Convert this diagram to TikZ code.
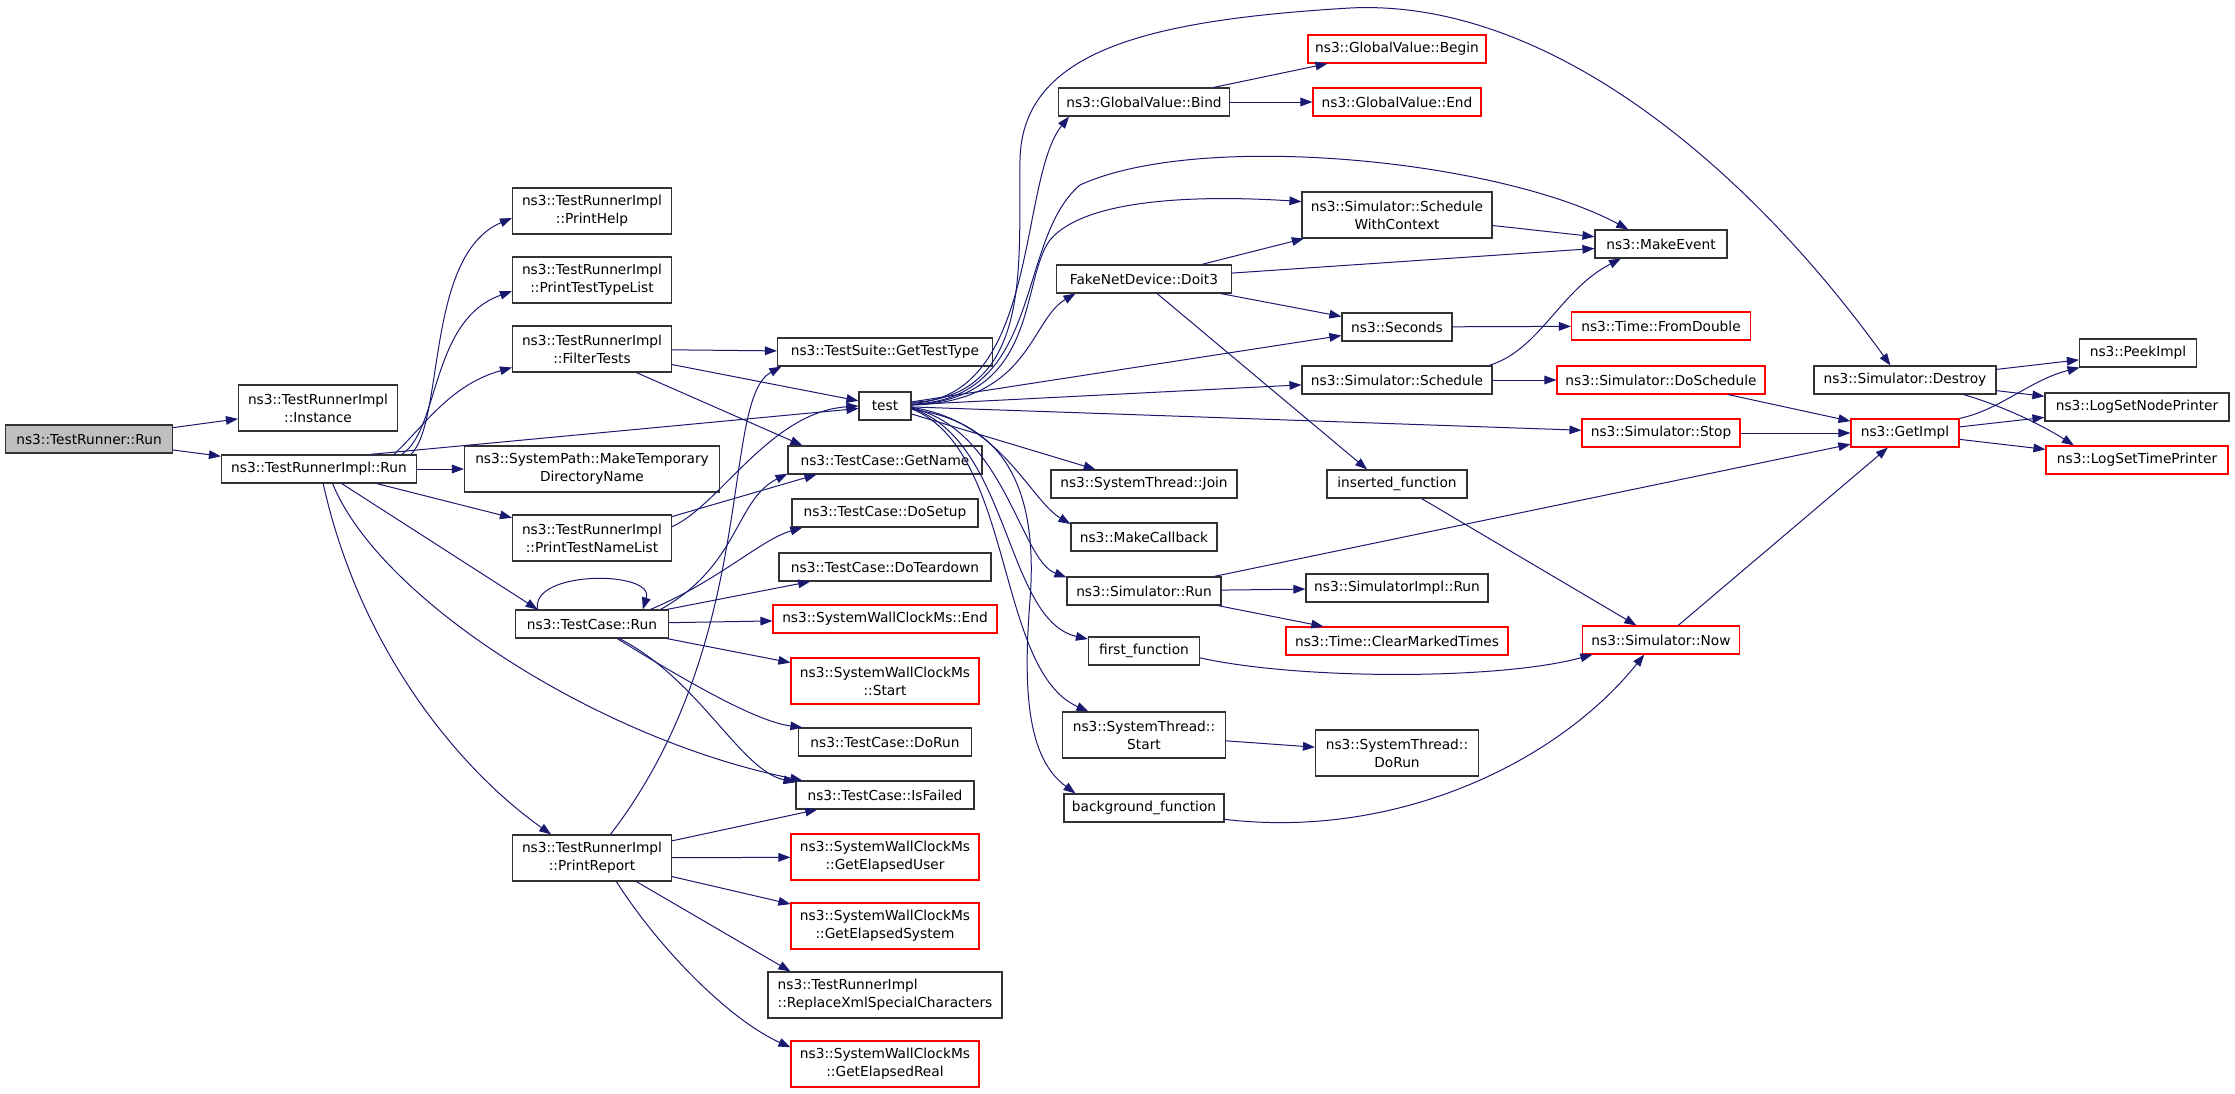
\documentclass[tikz,border=0pt]{standalone}
\usepackage{fontspec}
\setmainfont{DejaVu Sans}
\usepackage{tikz}
\usetikzlibrary{arrows.meta}
\definecolor{callblue}{HTML}{191970}
\definecolor{rootgray}{HTML}{BFBFBF}
\newcommand{\boxh}{21pt}
\newcommand{\boxhh}{34.5pt}
\tikzset{
  fn/.style={draw=black!80, fill=white, line width=0.85pt, rectangle, inner xsep=2pt, inner ysep=0pt,
    minimum height=\boxh, align=center, font=\fontsize{10.3}{13.6}\selectfont},
  fnred/.style={fn, draw=red},
  two/.style={minimum height=\boxhh},
  bw/.style={minimum width=#1*0.75pt},
  call/.style={draw=callblue, line width=0.75pt, -{Triangle[length=9pt,width=6.5pt]}},
}

\begin{document}
\begin{tikzpicture}[x=0.75pt,y=-0.75pt]
\useasboundingbox (0,0) rectangle (2235,1093);

% column 1 and 2
\node[fn, fill=rootgray, bw=167] (trRun) at (89,439) {ns3::TestRunner::Run};
\node[fn, two, bw=159] (inst) at (318,408) {ns3::TestRunnerImpl\\::Instance};
\node[fn, bw=195] (implRun) at (319,469) {ns3::TestRunnerImpl::Run};

% column 3
\node[fn, two, bw=159] (pHelp) at (592,211) {ns3::TestRunnerImpl\\::PrintHelp};
\node[fn, two, bw=159] (pTypes) at (592,280) {ns3::TestRunnerImpl\\::PrintTestTypeList};
\node[fn, two, bw=159] (filter) at (592,349) {ns3::TestRunnerImpl\\::FilterTests};
\node[fn, two, bw=255] (mkTmp) at (592,469) {ns3::SystemPath::MakeTemporary\\DirectoryName};
\node[fn, two, bw=159] (pNames) at (592,538) {ns3::TestRunnerImpl\\::PrintTestNameList};
\node[fn, bw=153] (tcRun) at (592,624) {ns3::TestCase::Run};
\node[fn, two, bw=159] (pReport) at (592,858) {ns3::TestRunnerImpl\\::PrintReport};

% column 4
\node[fn, bw=215] (getType) at (885,352) {ns3::TestSuite::GetTestType};
\node[fn, bw=52] (test) at (885,406) {test};
\node[fn, bw=194] (getName) at (885,460) {ns3::TestCase::GetName};
\node[fn, bw=186] (doSetup) at (885,513) {ns3::TestCase::DoSetup};
\node[fn, bw=212] (doTear) at (885,567) {ns3::TestCase::DoTeardown};
\node[fnred, bw=224] (swcEnd) at (885,619) {ns3::SystemWallClockMs::End};
\node[fnred, two, bw=188] (swcStart) at (885,681) {ns3::SystemWallClockMs\\::Start};
\node[fn, bw=173] (doRun) at (885,742) {ns3::TestCase::DoRun};
\node[fn, bw=178] (isFailed) at (885,795) {ns3::TestCase::IsFailed};
\node[fnred, two, bw=188] (elUser) at (885,857) {ns3::SystemWallClockMs\\::GetElapsedUser};
\node[fnred, two, bw=188] (elSys) at (885,926) {ns3::SystemWallClockMs\\::GetElapsedSystem};
\node[fn, two, bw=234, align=left] (replXml) at (885,995) {ns3::TestRunnerImpl\\::ReplaceXmlSpecialCharacters};
\node[fnred, two, bw=188] (elReal) at (885,1064) {ns3::SystemWallClockMs\\::GetElapsedReal};

% column 5
\node[fn, bw=171] (bind) at (1144,102) {ns3::GlobalValue::Bind};
\node[fn, bw=175] (doit3) at (1144,279) {FakeNetDevice::Doit3};
\node[fn, bw=186] (join) at (1144,484) {ns3::SystemThread::Join};
\node[fn, bw=146] (mkCb) at (1144,537) {ns3::MakeCallback};
\node[fn, bw=154] (simRun) at (1144,591) {ns3::Simulator::Run};
\node[fn, bw=111] (firstFn) at (1144,651) {first\_function};
\node[fn, two, bw=163] (stStart) at (1144,735) {ns3::SystemThread::\\Start};
\node[fn, bw=160] (bgFn) at (1144,808) {background\_function};

% column 6
\node[fnred, bw=178] (gvBegin) at (1397,49) {ns3::GlobalValue::Begin};
\node[fnred, bw=168] (gvEnd) at (1397,102) {ns3::GlobalValue::End};
\node[fn, two, bw=190] (swc) at (1397,215) {ns3::Simulator::Schedule\\WithContext};
\node[fn, bw=110] (seconds) at (1397,327) {ns3::Seconds};
\node[fn, bw=190] (sched) at (1397,380) {ns3::Simulator::Schedule};
\node[fn, bw=140] (inserted) at (1397,484) {inserted\_function};
\node[fn, bw=182] (simImplRun) at (1397,588) {ns3::SimulatorImpl::Run};
\node[fnred, bw=222] (clearMT) at (1397,641) {ns3::Time::ClearMarkedTimes};
\node[fn, two, bw=163] (stDoRun) at (1397,753) {ns3::SystemThread::\\DoRun};

% column 7
\node[fn, bw=132] (makeEvent) at (1661,244) {ns3::MakeEvent};
\node[fnred, bw=179] (fromDbl) at (1661,326) {ns3::Time::FromDouble};
\node[fnred, bw=208] (doSched) at (1661,380) {ns3::Simulator::DoSchedule};
\node[fnred, bw=158] (stop) at (1661,433) {ns3::Simulator::Stop};
\node[fnred, bw=157] (now) at (1661,640) {ns3::Simulator::Now};

% column 8 and 9
\node[fn, bw=182] (destroy) at (1905,380) {ns3::Simulator::Destroy};
\node[fnred, bw=108] (getImpl) at (1905,433) {ns3::GetImpl};
\node[fn, bw=117] (peek) at (2138,353) {ns3::PeekImpl};
\node[fn, bw=184] (nodePr) at (2137,407) {ns3::LogSetNodePrinter};
\node[fnred, bw=182] (timePr) at (2137,460) {ns3::LogSetTimePrinter};

% calls of the root
\draw[call] (trRun) -- (inst);
\draw[call] (trRun) -- (implRun);

% TestRunnerImpl::Run
\draw[call] (implRun.9) .. controls (445,420) and (425,255) .. (pHelp.185);
\draw[call] (implRun.10) .. controls (440,430) and (430,320) .. (pTypes.188);
\draw[call] (implRun.11) .. controls (425,425) and (450,385) .. (filter.193);
\draw[call] (implRun.16) -- (test);
\draw[call] (implRun) -- (mkTmp);
\draw[call] (implRun) -- (pNames);
\draw[call] (implRun) -- (tcRun.165);
\draw[call] (implRun.-47) .. controls (380,600) and (600,740) .. (isFailed.170);
\draw[call] (implRun.-74) .. controls (360,650) and (460,770) .. (pReport.150);

% FilterTests, PrintTestNameList
\draw[call] (filter) -- (getType);
\draw[call] (filter.-11) -- (test);
\draw[call] (filter.-28) -- (getName.170);
\draw[call] (pNames.15) -- (getName.-168);
\draw[call] (pNames.8) .. controls (720,505) and (770,412) .. (test.west);

% TestCase::Run
\draw[call] (tcRun.165) .. controls (530,570) and (655,570) .. (tcRun.16);
\draw[call] (tcRun.14) .. controls (720,580) and (760,540) .. (doSetup.-170);
\draw[call] (tcRun.12) .. controls (740,565) and (735,500) .. (getName.-172);
\draw[call] (tcRun) -- (doTear);
\draw[call] (tcRun) -- (swcEnd);
\draw[call] (tcRun) -- (swcStart);
\draw[call] (tcRun.-30) .. controls (700,690) and (760,722) .. (doRun.170);
\draw[call] (tcRun.-28) .. controls (700,680) and (740,770) .. (isFailed.172);

% PrintReport
\draw[call] (pReport.52) .. controls (760,640) and (720,400) .. (getType.-172);
\draw[call] (pReport) -- (isFailed);
\draw[call] (pReport) -- (elUser);
\draw[call] (pReport) -- (elSys);
\draw[call] (pReport.-28) -- (replXml.166);
\draw[call] (pReport.-44) .. controls (660,950) and (730,1020) .. (elReal.170);

% test
\draw[call] (test.8) .. controls (1035,398) and (1018,260) .. (1020,160)
  .. controls (1022,50) and (1150,20) .. (1350,8)
  .. controls (1550,-2) and (1750,170) .. (destroy.135);
\draw[call] (test.6) .. controls (1040,398) and (1018,180) .. (bind.-169);
\draw[call] (test.4) .. controls (1045,400) and (1015,240) .. (1080,185)
  .. controls (1200,130) and (1500,160) .. (makeEvent.156);
\draw[call] (test.3) .. controls (1040,400) and (1020,280) .. (1050,240)
  .. controls (1085,198) and (1200,195) .. (swc.172);
\draw[call] (test.2) .. controls (1030,402) and (1030,320) .. (doit3.-168);
\draw[call] (test) -- (seconds);
\draw[call] (test) -- (sched);
\draw[call] (test) -- (stop);
\draw[call] (test) -- (join);
\draw[call] (test.-3) .. controls (1000,420) and (1030,500) .. (mkCb.170);
\draw[call] (test.-4) .. controls (1005,430) and (1020,560) .. (simRun.170);
\draw[call] (test.-5) .. controls (1010,440) and (1005,620) .. (firstFn.168);
\draw[call] (test.-6) .. controls (1015,450) and (995,670) .. (stStart.157);
\draw[call] (test.-7) .. controls (990,420) and (1040,470) .. (1030,600)
  .. controls (1022,700) and (1030,760) .. (bgFn.168);

% column 5 calls
\draw[call] (bind) -- (gvBegin);
\draw[call] (bind) -- (gvEnd);
\draw[call] (doit3) -- (swc);
\draw[call] (doit3) -- (makeEvent);
\draw[call] (doit3) -- (seconds);
\draw[call] (doit3.-48) -- (inserted.154);
\draw[call] (simRun) -- (getImpl);
\draw[call] (simRun) -- (simImplRun);
\draw[call] (simRun) -- (clearMT);
\draw[call] (firstFn.-7) .. controls (1300,680) and (1500,680) .. (now.-168);
\draw[call] (stStart) -- (stDoRun);
\draw[call] (bgFn.-8) .. controls (1400,840) and (1560,760) .. (now.-139);

% column 6 calls
\draw[call] (swc) -- (makeEvent);
\draw[call] (seconds) -- (fromDbl);
\draw[call] (sched.9) .. controls (1540,350) and (1560,290) .. (makeEvent.-160);
\draw[call] (sched) -- (doSched);
\draw[call] (inserted) -- (now);

% column 7 and 8 calls
\draw[call] (doSched) -- (getImpl);
\draw[call] (stop) -- (getImpl);
\draw[call] (now) -- (getImpl);
\draw[call] (destroy) -- (peek);
\draw[call] (destroy) -- (nodePr);
\draw[call] (destroy.-14) .. controls (2010,408) and (2050,430) .. (timePr.167);
\draw[call] (getImpl.15) .. controls (2000,410) and (2030,380) .. (peek.-166);
\draw[call] (getImpl) -- (nodePr);
\draw[call] (getImpl) -- (timePr);

\end{tikzpicture}
\end{document}
